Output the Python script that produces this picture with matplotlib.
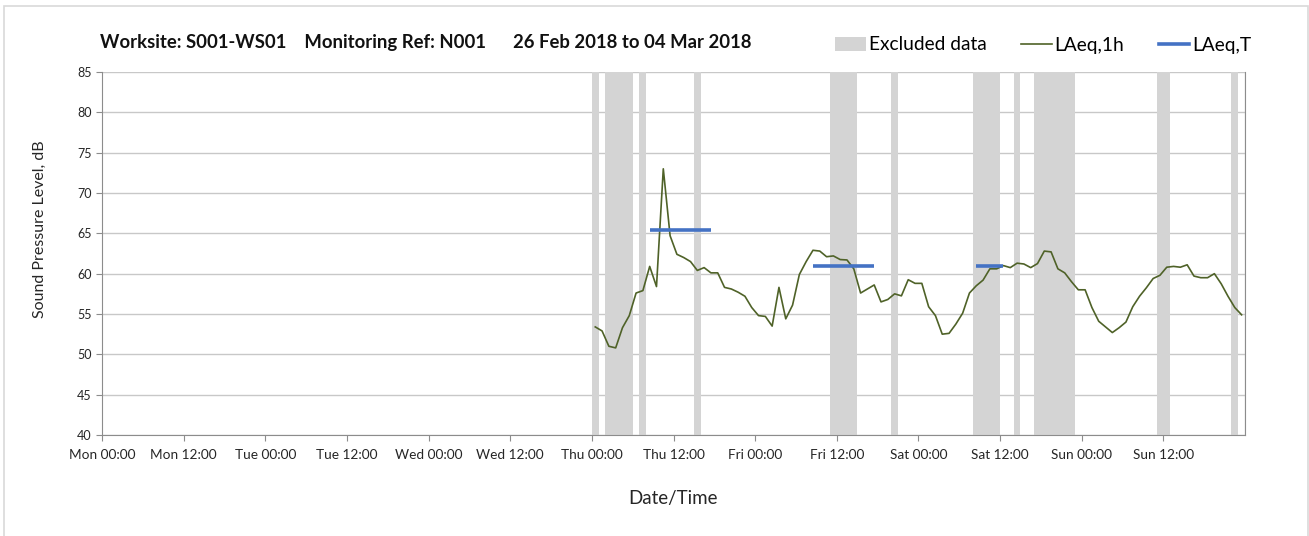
import matplotlib
matplotlib.use("Agg")
import matplotlib.pyplot as plt
from matplotlib.patches import Rectangle
from matplotlib.lines import Line2D
from matplotlib.patches import Patch

plt.rcParams['font.family'] = ['Lato', 'DejaVu Sans']

# ---- data (hours since Mon 00:00) ----
THU = 72  # Thu 00:00
laeq_1h = [53.4, 52.9, 51.0, 50.8, 53.3, 54.8, 57.6, 57.9, 60.9, 58.4,
           73.0, 64.7, 62.4, 62.0, 61.5, 60.4, 60.75, 60.1, 60.1, 58.3,
           58.1, 57.7, 57.2, 55.8, 54.8, 54.7, 53.5, 58.3, 54.4, 56.1,
           59.9, 61.5, 62.9, 62.8, 62.1, 62.2, 61.75, 61.7, 60.6, 57.6,
           58.1, 58.6, 56.5, 56.8, 57.5, 57.25, 59.25, 58.8, 58.8, 55.9,
           54.8, 52.5, 52.6, 53.75, 55.1, 57.6, 58.5, 59.2, 60.6, 60.6,
           61.0, 60.75, 61.3, 61.2, 60.75, 61.25, 62.8, 62.7, 60.6, 60.1,
           59.0, 58.0, 58.0, 55.8, 54.1, 53.4, 52.7, 53.3, 54.0, 55.9,
           57.2, 58.25, 59.4, 59.8, 60.8, 60.9, 60.8, 61.1, 59.7, 59.5,
           59.5, 60.0, 58.75, 57.2, 55.8, 54.9]
hours = [THU + h + 0.5 for h in range(len(laeq_1h))]

# excluded periods (start hour, end hour) from Thu 00:00
excluded = [(0, 1), (2, 6), (7, 8), (15, 16), (35, 39), (44, 45),
            (56, 60), (62, 63), (65, 71), (83, 85), (94, 95)]

# LAeq,T periods (first hour, last hour, level)
laeq_t = [(8, 17, 65.4), (32, 41, 60.9), (56, 60, 61.0)]

tick_labels = ['Mon 00:00', 'Mon 12:00', 'Tue 00:00', 'Tue 12:00', 'Wed 00:00',
               'Wed 12:00', 'Thu 00:00', 'Thu 12:00', 'Fri 00:00', 'Fri 12:00',
               'Sat 00:00', 'Sat 12:00', 'Sun 00:00', 'Sun 12:00']

green = '#4F6228'
blue = '#4472C4'
band = '#D4D4D4'
txt = '#262626'

fig = plt.figure(figsize=(13.09, 5.36), dpi=100)
ax = fig.add_axes([102 / 1309, 101 / 536, 1143 / 1309, 363 / 536])

for s, e in excluded:
    ax.axvspan(THU + s, THU + e, color=band, lw=0, zorder=1)

ax.plot(hours, laeq_1h, color=green, lw=1.2, zorder=3)
for a, b, v in laeq_t:
    ax.plot([THU + a + 0.5, THU + b + 0.5], [v, v], color=blue, lw=2.6,
            solid_capstyle='butt', zorder=4)

ax.set_xlim(0, 168)
ax.set_ylim(40, 85)
ax.set_yticks(range(40, 86, 5))
ax.set_xticks(range(0, 168, 12))
ax.set_xticklabels(tick_labels)
ax.set_xticks(range(24, 169, 24), minor=True)

ax.grid(axis='y', color='#C8C8C8', lw=1, zorder=0)
ax.grid(axis='x', which='minor', color='#DCDCDC', lw=1, zorder=0)
ax.set_axisbelow(True)

ax.spines['top'].set_visible(False)
ax.spines['right'].set_color('#8C8C8C')
ax.spines['left'].set_color('#8C8C8C')
ax.spines['bottom'].set_color('#8C8C8C')
ax.tick_params(axis='both', which='major', colors='#8C8C8C', length=4,
               labelcolor=txt)
ax.tick_params(axis='x', which='major', labelsize=9.8, pad=6)
ax.tick_params(axis='y', which='major', labelsize=9)
ax.tick_params(axis='x', which='minor', length=0)

ax.set_ylabel('Sound Pressure Level, dB', fontsize=11.5, color=txt)
ax.yaxis.set_label_coords(-0.048, 0.567)
ax.set_xlabel('Date/Time', fontsize=13.5, color=txt, labelpad=21)

fig.text(100 / 1309, 1 - 42 / 536, 'Worksite: S001-WS01    Monitoring Ref: N001      26 Feb 2018 to 04 Mar 2018',
         fontsize=13.3, fontweight='bold', va='center', ha='left', color='#111111')

handles = [Patch(facecolor=band, edgecolor='none'),
           Line2D([0], [0], color=green, lw=1.2),
           Line2D([0], [0], color=blue, lw=2.6)]
fig.legend(handles, ['Excluded data', 'LAeq,1h', 'LAeq,T'], ncol=3,
           loc='center right', bbox_to_anchor=(1259 / 1309, 1 - 45 / 536),
           frameon=False, fontsize=13.8, handlelength=1.6, handletextpad=0.15,
           columnspacing=1.8, borderaxespad=0)

fig.patches.append(Rectangle((3.5 / 1309, -0.01), 1304 / 1309, 1 - 5.5 / 536 + 0.01,
                             transform=fig.transFigure, fill=False,
                             edgecolor='#D9D9D9', lw=1.2))

fig.savefig('out.png', dpi=100)
